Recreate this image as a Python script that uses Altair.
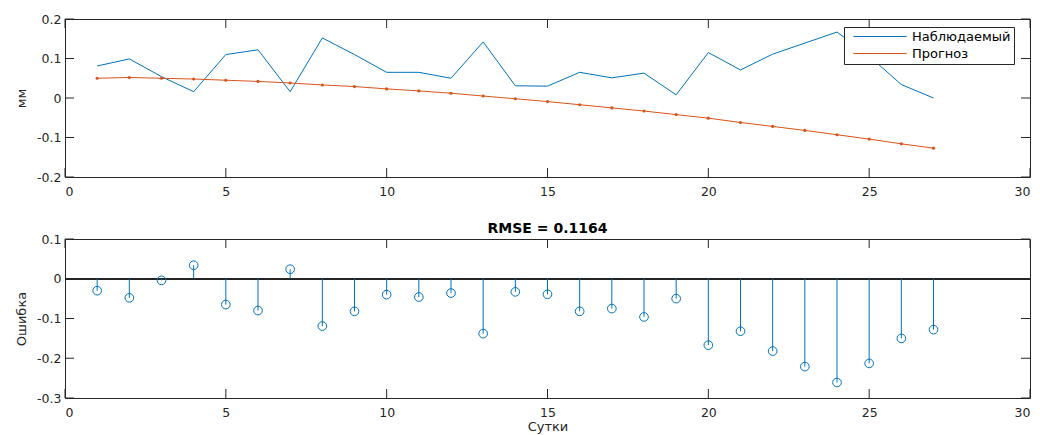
import altair as alt
import pandas as pd

# ---------------- data ----------------
days = list(range(1, 28))
observed = [0.081, 0.099, 0.054, 0.016, 0.110, 0.122, 0.016, 0.152, 0.110, 0.065,
            0.065, 0.050, 0.142, 0.031, 0.030, 0.065, 0.051, 0.063, 0.008, 0.115,
            0.071, 0.111, 0.139, 0.167, 0.106, 0.034, 0.000]
forecast = [0.050, 0.052, 0.050, 0.048, 0.045, 0.042, 0.038, 0.033, 0.029, 0.023,
            0.018, 0.012, 0.005, -0.002, -0.009, -0.017, -0.025, -0.033, -0.042, -0.051,
            -0.062, -0.072, -0.082, -0.093, -0.104, -0.116, -0.127]
errors = [-0.030, -0.048, -0.004, 0.034, -0.065, -0.080, 0.024, -0.119, -0.082, -0.040,
          -0.046, -0.036, -0.138, -0.033, -0.039, -0.082, -0.075, -0.096, -0.050, -0.167,
          -0.132, -0.182, -0.221, -0.261, -0.213, -0.150, -0.128]
series_names = ["Наблюдаемый", "Прогноз"]
x_ticks = [0, 5, 10, 15, 20, 25, 30]
y1_ticks = [-0.2, -0.1, 0, 0.1, 0.2]
y2_ticks = [-0.3, -0.2, -0.1, 0, 0.1]
top_ylabel = "мм"
bottom_ylabel = "Ошибка"
bottom_xlabel = "Сутки"
bottom_title = "RMSE = 0.1164"

# ---------------- style ----------------
BLUE = "#0072BD"
ORANGE = "#D95319"
AX = "#262626"
FONT = "DejaVu Sans"
W = 965
H1 = 158
H2 = 159
TL = 9

df_lines = pd.DataFrame({
    "day": days * 2,
    "value": observed + forecast,
    "series": [series_names[0]] * len(days) + [series_names[1]] * len(days),
})
df_fc = pd.DataFrame({"day": days, "value": forecast})
df_err = pd.DataFrame({"day": days, "value": errors, "zero": [0] * len(days)})
df_xt = pd.DataFrame({"day": x_ticks})
df_y1t = pd.DataFrame({"value": y1_ticks})
df_y2t = pd.DataFrame({"value": y2_ticks})

lab = "datum.value == 0 ? '0' : (datum.value < 0 ? '-' : '') + format(abs(datum.value), '.1f')"

xs = alt.Scale(domain=[0, 30], nice=False, zero=False)
ys1 = alt.Scale(domain=[-0.2, 0.2], nice=False, zero=False)
ys2 = alt.Scale(domain=[-0.3, 0.1], nice=False, zero=False)


def xaxis(title):
    return alt.Axis(values=x_ticks, format="d", ticks=False, domain=False, grid=False,
                    labelPadding=8, labelFontSize=12.5, labelColor=AX, labelFont=FONT,
                    title=title, titleFontSize=13, titleFontWeight="normal",
                    titleColor=AX, titleFont=FONT, titlePadding=2)


def yaxis(vals, title):
    return alt.Axis(values=vals, labelExpr=lab, ticks=False, domain=False, grid=False,
                    labelPadding=4, labelFontSize=12.5, labelColor=AX, labelFont=FONT,
                    title=title, titleFontSize=13, titleFontWeight="normal",
                    titleColor=AX, titleFont=FONT, titlePadding=8)


XA_TOP = xaxis("")
YA_TOP = yaxis(y1_ticks, top_ylabel)
XA_BOT = xaxis(bottom_xlabel)
YA_BOT = yaxis(y2_ticks, bottom_ylabel)


def inner_ticks(h, yscale, ydf, xa, ya):
    xt_bot = alt.Chart(df_xt).mark_rule(color=AX, strokeWidth=1).encode(
        x=alt.X("day:Q", scale=xs, axis=xa), y=alt.value(h), y2=alt.value(h - TL))
    xt_top = alt.Chart(df_xt).mark_rule(color=AX, strokeWidth=1).encode(
        x=alt.X("day:Q", scale=xs, axis=xa), y=alt.value(0), y2=alt.value(TL))
    yt_l = alt.Chart(ydf).mark_rule(color=AX, strokeWidth=1).encode(
        y=alt.Y("value:Q", scale=yscale, axis=ya), x=alt.value(0), x2=alt.value(TL))
    yt_r = alt.Chart(ydf).mark_rule(color=AX, strokeWidth=1).encode(
        y=alt.Y("value:Q", scale=yscale, axis=ya), x=alt.value(W), x2=alt.value(W - TL))
    return [xt_bot, xt_top, yt_l, yt_r]


# ---------------- top panel ----------------
lines = alt.Chart(df_lines).mark_line(strokeWidth=1).encode(
    x=alt.X("day:Q", scale=xs, axis=XA_TOP),
    y=alt.Y("value:Q", scale=ys1, axis=YA_TOP),
    color=alt.Color(
        "series:N",
        scale=alt.Scale(domain=series_names, range=[BLUE, ORANGE]),
        title=None,
        legend=alt.Legend(
            orient="none", legendX=779, legendY=8,
            symbolType="M0,0H16", symbolSize=44, symbolStrokeWidth=1,
            labelOffset=52,
            labelFontSize=13, labelFont=FONT, labelColor="#000",
            strokeColor=AX, fillColor="white", padding=3, rowPadding=3,
        ),
    ),
)
dots = alt.Chart(df_fc).mark_circle(size=10, color=ORANGE, opacity=1).encode(
    x=alt.X("day:Q", scale=xs, axis=XA_TOP),
    y=alt.Y("value:Q", scale=ys1, axis=YA_TOP),
)
top = alt.layer(lines, dots, *inner_ticks(H1, ys1, df_y1t, XA_TOP, YA_TOP)).properties(
    width=W, height=H1)

# ---------------- bottom panel ----------------
baseline = alt.Chart(df_err).mark_rule(color=AX, strokeWidth=1).encode(
    y=alt.Y("zero:Q", scale=ys2, axis=YA_BOT), x=alt.value(0), x2=alt.value(W))
stems = alt.Chart(df_err).mark_rule(color=BLUE, strokeWidth=1).encode(
    x=alt.X("day:Q", scale=xs, axis=XA_BOT),
    y=alt.Y("value:Q", scale=ys2, axis=YA_BOT),
    y2="zero:Q",
)
circles = alt.Chart(df_err).mark_point(shape="circle", filled=False, size=75,
                                        strokeWidth=1, color=BLUE, opacity=1).encode(
    x=alt.X("day:Q", scale=xs, axis=XA_BOT),
    y=alt.Y("value:Q", scale=ys2, axis=YA_BOT),
)
bottom = alt.layer(baseline, stems, circles,
                   *inner_ticks(H2, ys2, df_y2t, XA_BOT, YA_BOT)).properties(
    width=W, height=H2,
    title=alt.TitleParams(bottom_title, fontSize=14, fontWeight="bold", font=FONT,
                          color="#000", offset=-3, anchor="middle"),
)

chart = alt.vconcat(top, bottom, spacing=23).properties(
    padding={"left": 7, "top": 4, "right": 0, "bottom": 0},
    background="white",
).configure_view(stroke=AX, strokeWidth=1)

chart.save("out.html", embed_options={"renderer": "svg", "actions": False})
